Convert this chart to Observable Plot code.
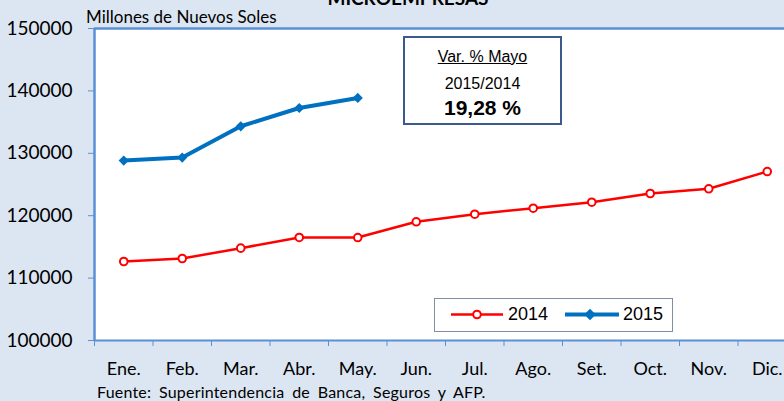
<!DOCTYPE html>
<html><head><meta charset="utf-8">
<script src="https://cdn.jsdelivr.net/npm/d3@7"></script>
<script src="https://cdn.jsdelivr.net/npm/@observablehq/plot@0.6"></script>
<style>
body{margin:0;}
#wrap{position:relative;width:784px;height:401px;background:#dce6f2;overflow:hidden;font-family:Lato,sans-serif;}
#wrap svg.plot{position:absolute;left:0;top:0;}
.ov{position:absolute;white-space:nowrap;}
#title{left:258px;width:300px;text-align:center;top:-14px;font-size:19px;line-height:23px;font-weight:bold;color:#000;}
#sub{left:86px;top:7px;font-size:17px;line-height:20px;color:#000;}
#src{left:97px;top:382px;font-size:16px;line-height:20px;color:#000;word-spacing:3.5px;letter-spacing:0.2px;}
#box{left:403px;top:36px;width:155px;height:85px;border:2px solid #3a5a8c;background:#fff;}
.bt{left:403px;width:159px;text-align:center;font-family:"Liberation Sans",Arial,sans-serif;color:#000;}
#b1{top:48px;font-size:16px;line-height:18px;text-decoration:underline;}
#b2{top:75px;font-size:16px;line-height:18px;}
#b3{top:96px;font-size:21px;line-height:24px;font-weight:bold;}
#leg{left:434px;top:298px;width:237px;height:32px;border:1.5px solid #7f8fa6;background:#fff;}
.lt{font-family:"Liberation Sans",Arial,sans-serif;font-size:18px;line-height:20px;top:304px;color:#000;}
</style></head><body><div id="wrap"></div>
<script>
const months = ["Ene.","Feb.","Mar.","Abr.","May.","Jun.","Jul.","Ago.","Set.","Oct.","Nov.","Dic."];
const values2014 = [112660,113140,114800,116510,116500,119020,120240,121200,122160,123560,124310,127080];
const values2015 = [128830,129310,134330,137260,138870];
const yTicks = [100000,110000,120000,130000,140000,150000];
const seriesNames = ["2014","2015"];
const colors = {"2014":"#ff0000","2015":"#0070c0"};

const rows2014 = values2014.map((v,i)=>({i, month:months[i], value:v}));
const rows2015 = values2015.map((v,i)=>({i, month:months[i], value:v}));
const axisBlue = "#5b8fd6";

const chart = Plot.plot({
  width:784, height:401,
  marginLeft:94, marginTop:28, marginBottom:61, marginRight:-12,
  style:{background:"transparent", fontFamily:"Lato, sans-serif", overflow:"hidden"},
  x:{type:"linear", domain:[0,12]},
  y:{domain:[100000,150000]},
  marks:[
    Plot.frame({fill:"white", stroke:"none"}),
    Plot.ruleY([150000], {stroke:axisBlue, strokeWidth:2.5}),
    Plot.ruleY([100000], {stroke:axisBlue, strokeWidth:2}),
    Plot.ruleX([0], {stroke:axisBlue, strokeWidth:2.5}),
    Plot.axisY({ticks:yTicks, tickFormat:d=>String(d), tickSize:6, tickPadding:16, fontSize:19, stroke:axisBlue, fill:"#000", label:null}),
    Plot.axisX({ticks:d3.range(13), tickFormat:()=>"", tickSize:6, stroke:axisBlue, label:null}),
    Plot.axisX({ticks:months.map((m,i)=>i+0.5), tickFormat:d=>months[Math.floor(d)], tickSize:0, tickPadding:22, fontSize:18, fill:"#000", label:null}),
    Plot.line(rows2014, {x:d=>d.i+0.5, y:"value", stroke:colors["2014"], strokeWidth:2.5}),
    Plot.dot(rows2014, {x:d=>d.i+0.5, y:"value", r:3.8, fill:"white", stroke:colors["2014"], strokeWidth:2}),
    Plot.line(rows2015, {x:d=>d.i+0.5, y:"value", stroke:colors["2015"], strokeWidth:4}),
    Plot.dot(rows2015, {x:d=>d.i+0.5, y:"value", r:4.6, symbol:"diamond2", fill:colors["2015"], stroke:"none"})
  ]
});
chart.classList.add("plot");
const wrap = document.getElementById("wrap");
wrap.appendChild(chart);

function add(id, cls, html){const d=document.createElement("div");d.className="ov "+(cls||"");if(id)d.id=id;d.innerHTML=html;wrap.appendChild(d);return d;}
add("title","","MICROEMPRESAS");
add("sub","","Millones de Nuevos Soles");
add("src","","Fuente: Superintendencia de Banca, Seguros y AFP.");
add("box","","");
add("b1","bt","Var. % Mayo");
add("b2","bt","2015/2014");
add("b3","bt","19,28 %");
const leg = add("leg","","");
leg.innerHTML = `<svg width="237" height="32" style="position:absolute;left:0;top:0">
<line x1="16" x2="68" y1="15.5" y2="15.5" stroke="${colors["2014"]}" stroke-width="2.5"/>
<circle cx="42" cy="15.5" r="3.8" fill="white" stroke="${colors["2014"]}" stroke-width="2"/>
<line x1="130" x2="184" y1="15.5" y2="15.5" stroke="${colors["2015"]}" stroke-width="4"/>
<path d="M155,9.7L160.8,15.5L155,21.3L149.2,15.5Z" fill="${colors["2015"]}"/>
</svg>`;
const l1 = add(null,"lt",seriesNames[0]); l1.style.left="508px";
const l2 = add(null,"lt",seriesNames[1]); l2.style.left="623px";
</script>
</body></html>
